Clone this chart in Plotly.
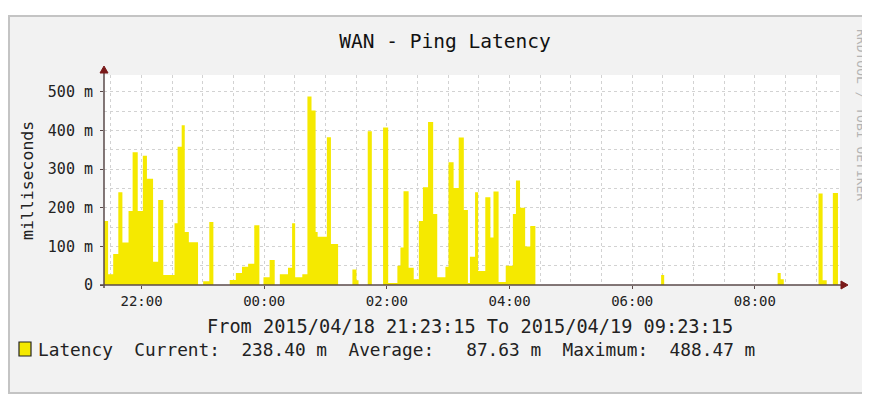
import plotly.graph_objects as go
import pandas as pd

# ping latency samples: minutes after 21:23:15, value held until next sample
offset_min = [0, 4, 9, 14, 18, 24, 28, 33, 38, 42,
              48, 53, 58, 69, 72, 76, 79, 83, 92, 97,
              103, 107, 123, 129, 135, 141, 147, 152, 156, 162,
              167, 172, 180, 184, 187, 194, 199, 203, 207, 209,
              218, 222, 229, 243, 247, 249, 258, 262, 273, 278,
              287, 290, 293, 298, 303, 308, 312, 317, 322, 326,
              334, 337, 342, 347, 352, 356, 358, 363, 366, 373,
              378, 381, 386, 393, 400, 403, 407, 412, 417, 422,
              545, 548, 659, 662, 665, 699, 703, 707, 713, 718, 720]
latency_ms = [166, 28, 80, 240, 110, 192, 344, 192, 335, 275,
              60, 220, 26, 160, 358, 414, 137, 111, 0, 10,
              163, 0, 13, 31, 47, 55, 155, 0, 20, 65,
              0, 28, 45, 160, 20, 28, 488.47, 452, 137, 125,
              383, 106, 0, 40, 12, 0, 398, 0, 408, 5,
              50, 97, 243, 45, 15, 166, 253, 422, 184, 20,
              47, 318, 251, 382, 194, 5, 73, 240, 36, 227,
              123, 242, 8, 50, 184, 271, 200, 100, 153, 0,
              26, 0, 31, 15, 0, 237, 12, 0, 238.4, 0, 0]

y_ticks = [0, 100, 200, 300, 400, 500]
y_tick_labels = ["0", "100 m", "200 m", "300 m", "400 m", "500 m"]

start = pd.Timestamp("2015-04-18 21:23:15")
end = pd.Timestamp("2015-04-19 09:23:15")
times = [start + pd.Timedelta(minutes=m) for m in offset_min]

MONO = "DejaVu Sans Mono"
YELLOW = "#F5E900"
AXIS = "#5A4A4A"
ARROW = "#7A1A1A"
GRID = "#D2D2D2"

# page pixel -> paper coords (plot area sits at page x 104..840, y 75..285)
def px(x):
    return (x - 104) / 736

def py(y):
    return (285 - y) / 210

fig = go.Figure()
fig.add_scatter(
    x=times, y=latency_ms, mode="lines", line_shape="hv",
    line=dict(width=0, color=YELLOW), fill="tozeroy", fillcolor=YELLOW,
    hoverinfo="skip",
)

# grey panel behind everything
fig.add_shape(type="rect", xref="paper", yref="paper", layer="below",
              x0=px(9), x1=px(880), y0=py(393), y1=py(16),
              fillcolor="#F2F2F2", line=dict(color="#C4C4C4", width=2))
fig.add_shape(type="rect", xref="paper", yref="paper", layer="below",
              x0=0, x1=1, y0=0, y1=1, fillcolor="white", line_width=0)

# axis lines with arrows
fig.add_shape(type="line", xref="paper", yref="paper",
              x0=px(100), x1=px(846), y0=0, y1=0,
              line=dict(color=AXIS, width=1.5))
fig.add_shape(type="line", xref="paper", yref="paper",
              x0=0, x1=0, y0=py(288), y1=py(70),
              line=dict(color=AXIS, width=1.5))
fig.add_shape(type="path", xref="paper", yref="paper",
              xsizemode="pixel", ysizemode="pixel", xanchor=px(848), yanchor=0,
              path="M -7,-4 L 0,0 L -7,4 Z", fillcolor=ARROW, line=dict(color=ARROW, width=1))
fig.add_shape(type="path", xref="paper", yref="paper",
              xsizemode="pixel", ysizemode="pixel", xanchor=0, yanchor=py(66),
              path="M -4,-7 L 0,0 L 4,-7 Z", fillcolor=ARROW, line=dict(color=ARROW, width=1))

# y title
fig.add_annotation(text="milliseconds", xref="paper", yref="paper",
                   x=px(27), y=py(181), xanchor="center", yanchor="middle",
                   textangle=-90, showarrow=False,
                   font=dict(family=MONO, size=16.5, color="#222"))
# time range comment
fig.add_annotation(text="From 2015/04/18 21:23:15 To 2015/04/19 09:23:15",
                   xref="paper", yref="paper", x=px(470), y=py(326),
                   xanchor="center", yanchor="middle",
                   showarrow=False, font=dict(family=MONO, size=18.6, color="#222"))
# legend line
fig.add_shape(type="rect", xref="paper", yref="paper",
              x0=px(19), x1=px(31), y0=py(356), y1=py(342),
              fillcolor=YELLOW, line=dict(color="#222", width=1.2))
legend_txt = ("Latency  Current:  238.40 m  Average:   87.63 m  Maximum:  488.47 m"
              .replace(" ", "\u00a0"))
fig.add_annotation(text=legend_txt, xref="paper", yref="paper",
                   x=px(36), y=py(349), xanchor="left", yanchor="middle",
                   showarrow=False, font=dict(family=MONO, size=17.8, color="#222"))
# watermark
fig.add_annotation(text="RRDTOOL / TOBI OETIKER", xref="paper", yref="paper",
                   x=px(862), y=py(115), xanchor="center", yanchor="middle",
                   textangle=90, showarrow=False,
                   font=dict(family=MONO, size=13, color="#B4B4B4"))

# the page has an 8px body margin, so the figure is 862x393
fig.update_layout(
    width=862, height=393,
    margin=dict(l=96, r=30, t=67, b=116),
    paper_bgcolor="white", plot_bgcolor="rgba(0,0,0,0)",
    showlegend=False,
    title=dict(text="WAN - Ping Latency", x=437 / 862, xanchor="center",
               y=1 - 33 / 393, yanchor="middle",
               font=dict(family=MONO, size=19.5, color="#111")),
    xaxis=dict(
        range=[start, end], type="date",
        tick0="2015-04-18 22:00:00", dtick=2 * 3600 * 1000, tickformat="%H:%M",
        showgrid=True, gridcolor=GRID, griddash="dot", gridwidth=1,
        minor=dict(dtick=1800 * 1000, tick0="2015-04-18 22:00:00",
                   showgrid=True, gridcolor=GRID, griddash="dot", gridwidth=1),
        ticks="outside", ticklen=3, tickcolor=AXIS, showline=False, zeroline=False,
        tickfont=dict(family=MONO, size=14, color="#222"),
    ),
    yaxis=dict(
        range=[0, 544], tickvals=y_ticks, ticktext=y_tick_labels,
        showgrid=True, gridcolor=GRID, griddash="dot", gridwidth=1,
        minor=dict(dtick=50, showgrid=True, gridcolor=GRID, griddash="dot", gridwidth=1),
        ticks="outside", ticklen=3, tickcolor=AXIS, showline=False, zeroline=False,
        ticklabelstandoff=4,
        tickfont=dict(family=MONO, size=15, color="#222"),
    ),
)

fig.write_html("out.html")
